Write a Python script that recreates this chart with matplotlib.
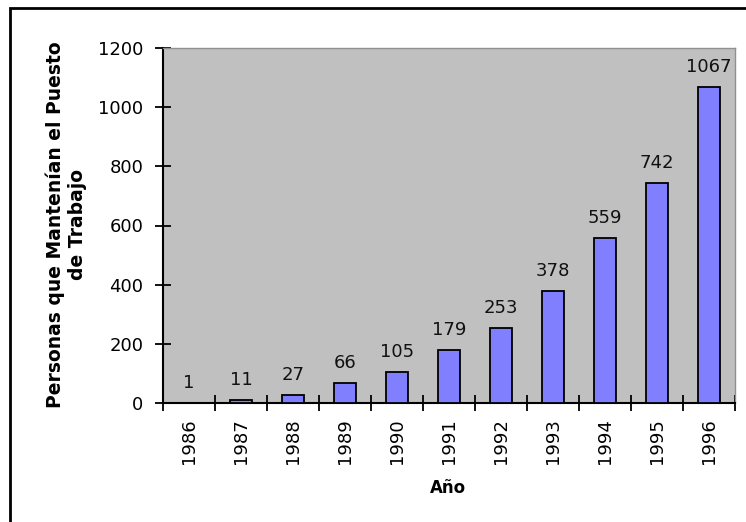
import numpy as np
import matplotlib.pyplot as plt
from matplotlib.patches import Rectangle

years = ["1986", "1987", "1988", "1989", "1990", "1991",
         "1992", "1993", "1994", "1995", "1996"]
personas = [1, 11, 27, 66, 105, 179, 253, 378, 559, 742, 1067]

plt.rcParams["font.family"] = ["DejaVu Sans"]

W, H = 746, 522
fig = plt.figure(figsize=(W / 100, H / 100), dpi=100)
# plot area in figure pixels: left 163, right 735, top 48, bottom 403
ax = fig.add_axes([163 / W, 1 - 403 / H, (735 - 163) / W, (403 - 48) / H])

x = np.arange(len(years))
ax.bar(x, personas, width=0.42, color="#8080FF", edgecolor="black", linewidth=1.3, zorder=3)
for xi, v in zip(x, personas):
    ax.annotate(str(v), (xi, v), xytext=(0, 8), textcoords="offset points",
                ha="center", va="bottom", fontsize=13, color="#111111", zorder=4)

ax.set_facecolor("#C0C0C0")
ax.set_xlim(-0.5, len(years) - 0.5)
ax.set_ylim(0, 1200)
ax.set_yticks(range(0, 1201, 200))
ax.set_xticks(x)
ax.set_xticklabels(years, rotation=90, fontsize=13)
ax.set_xticks(np.arange(-0.5, len(years)), minor=True)
ax.tick_params(axis="x", which="major", length=0, pad=11)
ax.tick_params(axis="x", which="minor", length=12, direction="inout", width=1.3)
ax.tick_params(axis="y", length=12, direction="inout", width=1.3, labelsize=13, pad=8)

for s in ["left", "bottom"]:
    ax.spines[s].set_linewidth(1.5)
    ax.spines[s].set_color("black")
for s in ["top", "right"]:
    ax.spines[s].set_linewidth(1)
    ax.spines[s].set_color("#909090")

fig.text(66 / W, 1 - 225 / H, "Personas que Mantenían el Puesto\nde Trabajo",
         rotation=90, ha="center", va="center", fontsize=13.5,
         fontweight="bold", linespacing=1.2)
fig.text(448 / W, 1 - 488 / H, "Año", ha="center", va="center",
         fontsize=12, fontweight="bold")

# outer chart border
fig.patches.append(Rectangle((10 / W, -0.05), 1.1, 1 - 8 / H + 0.05,
                             transform=fig.transFigure, fill=False,
                             edgecolor="black", linewidth=2))

fig.savefig("out.png", dpi=100)
